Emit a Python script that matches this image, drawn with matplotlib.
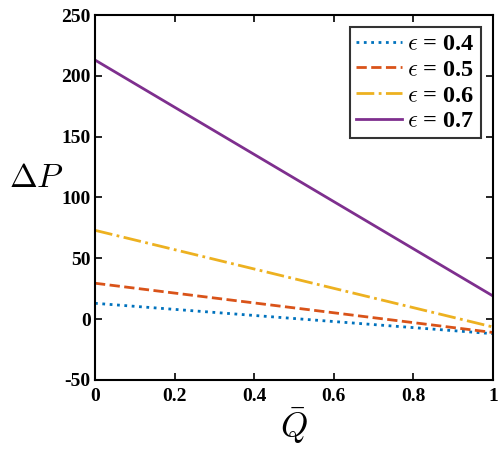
import matplotlib
matplotlib.use("Agg")
import matplotlib.pyplot as plt
import numpy as np

q = [0.0, 1.0]
labels = ["0.4", "0.5", "0.6", "0.7"]
dp_04 = [13, -12]
dp_05 = [29.5, -11]
dp_06 = [73, -6.5]
dp_07 = [213, 19]

colors = ["#0072BD", "#D95319", "#EDB120", "#7E2F8E"]
styles = [":", "--", "-.", "-"]

plt.rcParams['mathtext.fontset'] = 'cm'
plt.rcParams['axes.unicode_minus'] = False
fig = plt.figure(figsize=(5, 4.55), dpi=100)
ax = fig.add_axes([0.19, 0.165, 0.796, 0.802])

for y, c, ls, lab in zip([dp_04, dp_05, dp_06, dp_07], colors, styles, labels):
    ax.plot(q, y, color=c, linestyle=ls, linewidth=2, label=r"$\epsilon$ = " + lab)

ax.set_xlim(0, 1)
ax.set_ylim(-50, 250)
ax.set_xticks([0, 0.2, 0.4, 0.6, 0.8, 1])
ax.set_xticklabels(["0", "0.2", "0.4", "0.6", "0.8", "1"])
ax.set_yticks([-50, 0, 50, 100, 150, 200, 250])
ax.set_yticklabels(["-50", "0", "50", "100", "150", "200", "250"])
for lab in ax.get_xticklabels() + ax.get_yticklabels():
    lab.set_fontfamily("Liberation Serif")
    lab.set_fontweight("bold")
    lab.set_fontsize(14)
ax.tick_params(direction="in", top=True, right=True, length=5, width=1.2, pad=3)
ax.tick_params(axis="x", pad=6)
for s in ax.spines.values():
    s.set_linewidth(1.5)

ax.set_xlabel(r"$\bar{Q}$", fontsize=25, labelpad=0)
ax.set_ylabel(r"$\Delta P$", fontsize=24, rotation=0, va="center", ha="center")
ax.yaxis.set_label_coords(-0.148, 0.555)

leg = ax.legend(loc="upper right", prop={"family": "Liberation Serif", "weight": "bold", "size": 17.5},
                frameon=True, fancybox=False, edgecolor="black", handlelength=1.9,
                handletextpad=0.2, borderpad=0.25, labelspacing=0.15, borderaxespad=0.5)
leg.get_frame().set_linewidth(1.5)

fig.savefig("out.png", dpi=100)
